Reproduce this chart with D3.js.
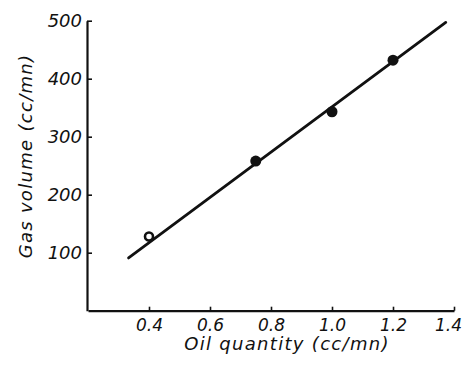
<!DOCTYPE html>
<html>
<head>
<meta charset="utf-8">
<script src="https://cdn.jsdelivr.net/npm/d3@7"></script>
<style>
  html, body { margin: 0; padding: 0; background: #fff; }
  svg { display: block; }
  text { font-family: "DejaVu Sans", sans-serif; font-style: italic; fill: #111; }
</style>
</head>
<body>
<svg id="chart" width="462" height="365"></svg>
<script>
// Data
const oilQuantity = [0.4, 0.75, 1.0, 1.2];
const gasVolume = [128, 258, 343, 432];
const pointOpen = [true, false, false, false];
const fitLineX = [0.333, 1.373];
const fitLineY = [91, 497];
const xTicks = [0.4, 0.6, 0.8, 1.0, 1.2, 1.4];
const yTicks = [100, 200, 300, 400, 500];
const xTitle = "Oil quantity (cc/mn)";
const yTitle = "Gas volume (cc/mn)";

const svg = d3.select("#chart");
const x = d3.scaleLinear().domain([0.2, 1.4]).range([88, 454]);
const y = d3.scaleLinear().domain([0, 500]).range([310.7, 20.7]);

// X axis
const xAxis = svg.append("g")
  .attr("transform", `translate(0,${y(0)})`)
  .call(d3.axisBottom(x).tickValues(xTicks).tickSizeInner(-4).tickSizeOuter(0)
    .tickPadding(8).tickFormat(d3.format(".1f")));
xAxis.select(".domain").attr("stroke", "#111").attr("stroke-width", 2.2);
xAxis.selectAll(".tick line").attr("stroke", "#111").attr("stroke-width", 1.6);
xAxis.selectAll(".tick text").attr("font-size", 17).attr("font-family", "DejaVu Sans")
  .attr("font-style", "italic").attr("fill", "#111").attr("dy", "0.72em")
  .attr("dx", d => d === 1.4 ? -6 : 0);

// Y axis
const yAxis = svg.append("g")
  .attr("transform", `translate(${x(0.2) - 1},0)`)
  .call(d3.axisLeft(y).tickValues(yTicks).tickSizeInner(-5).tickSizeOuter(0)
    .tickPadding(5));
yAxis.select(".domain").attr("stroke", "#111").attr("stroke-width", 2.2);
yAxis.selectAll(".tick line").attr("stroke", "#111").attr("stroke-width", 1.6);
yAxis.selectAll(".tick text").attr("font-size", 18).attr("font-family", "DejaVu Sans")
  .attr("font-style", "italic").attr("fill", "#111");

// Fit line
const lineGen = d3.line().x(d => x(d[0])).y(d => y(d[1]));
svg.append("path")
  .datum(d3.zip(fitLineX, fitLineY))
  .attr("d", lineGen)
  .attr("fill", "none").attr("stroke", "#111").attr("stroke-width", 2.8)
  .attr("stroke-linecap", "round");

// Points
svg.selectAll("circle.pt")
  .data(d3.zip(oilQuantity, gasVolume, pointOpen))
  .join("circle")
  .attr("class", "pt")
  .attr("cx", d => x(d[0]))
  .attr("cy", d => y(d[1]))
  .attr("r", d => d[2] ? 4 : 5.5)
  .attr("fill", d => d[2] ? "#fff" : "#111")
  .attr("stroke", "#111")
  .attr("stroke-width", d => d[2] ? 2.6 : 0);

// Axis titles
svg.append("text")
  .attr("x", 287).attr("y", 350)
  .attr("text-anchor", "middle")
  .attr("font-size", 18)
  .attr("letter-spacing", 1.3)
  .text(xTitle);

svg.append("text")
  .attr("transform", "translate(32,156) rotate(-90)")
  .attr("text-anchor", "middle")
  .attr("font-size", 18)
  .attr("letter-spacing", 1.3)
  .text(yTitle);
</script>
</body>
</html>
